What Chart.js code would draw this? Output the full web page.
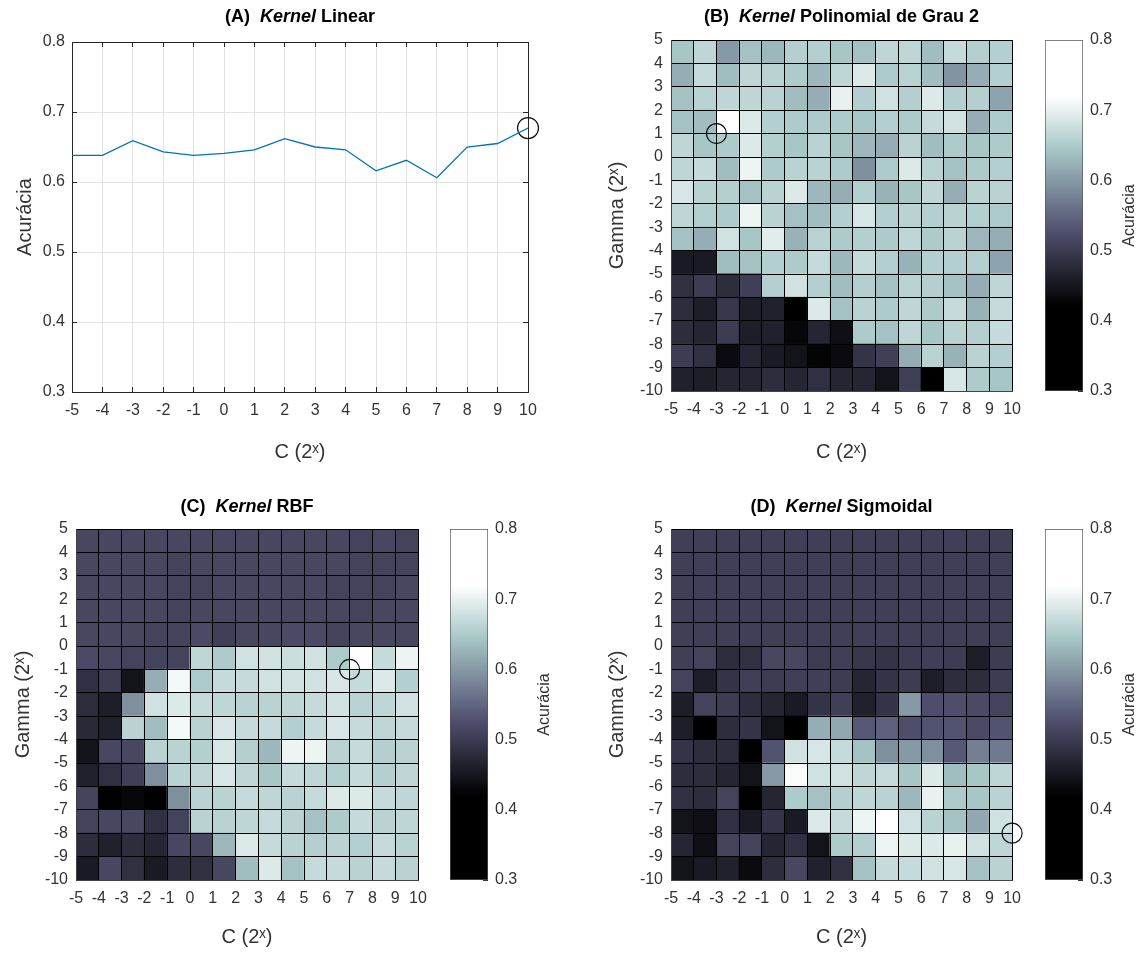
<!DOCTYPE html>
<html><head><meta charset="utf-8">
<script src="https://cdn.jsdelivr.net/npm/chart.js@4.4.1/dist/chart.umd.min.js"></script>
<style>
html,body{margin:0;padding:0;background:#fff;width:1148px;height:953px;overflow:hidden;position:relative;}
canvas{position:absolute;display:block;}
</style></head><body>
<canvas id="cA" width="560" height="470" style="left:0;top:0"></canvas>
<canvas id="cB" width="430" height="470" style="left:600px;top:0"></canvas>
<canvas id="cbB" width="108" height="470" style="left:1040px;top:0"></canvas>
<canvas id="cC" width="440" height="473" style="left:0;top:480px"></canvas>
<canvas id="cbC" width="120" height="473" style="left:440px;top:480px"></canvas>
<canvas id="cD" width="430" height="473" style="left:600px;top:480px"></canvas>
<canvas id="cbD" width="108" height="473" style="left:1040px;top:480px"></canvas>
<script>
// ---------------- DATA ----------------
const cTicks = [-5,-4,-3,-2,-1,0,1,2,3,4,5,6,7,8,9,10];          // C exponent (panel A x values, heatmap x ticks)
const cCells = [-5,-4,-3,-2,-1,0,1,2,3,4,5,6,7,8,9];              // heatmap column left edges
const gammaRows = [4,3,2,1,0,-1,-2,-3,-4,-5,-6,-7,-8,-9,-10];     // heatmap row lower edges (top to bottom)
const accTicks = [0.3,0.4,0.5,0.6,0.7,0.8];

// (A) linear kernel accuracy vs C
const linearAcc = [0.638,0.638,0.659,0.643,0.638,0.641,0.646,0.662,0.650,0.646,0.616,0.631,0.606,0.650,0.655,0.677];
const bestLinear = [10, 0.677];

// (B) polynomial degree 2 — rows gamma 4 .. -10, columns C -5 .. 9
const polyAcc = [
 [0.645,0.665,0.60,0.64,0.63,0.655,0.655,0.645,0.64,0.665,0.665,0.635,0.67,0.655,0.655],
 [0.62,0.67,0.635,0.665,0.66,0.65,0.63,0.665,0.69,0.65,0.66,0.635,0.595,0.62,0.655],
 [0.64,0.66,0.665,0.665,0.66,0.635,0.62,0.70,0.655,0.68,0.655,0.69,0.655,0.655,0.61],
 [0.64,0.635,0.73,0.69,0.655,0.65,0.65,0.65,0.645,0.655,0.65,0.67,0.68,0.62,0.65],
 [0.665,0.645,0.65,0.69,0.655,0.645,0.66,0.645,0.63,0.62,0.66,0.635,0.65,0.645,0.65],
 [0.665,0.67,0.635,0.705,0.65,0.66,0.66,0.65,0.59,0.65,0.69,0.66,0.64,0.65,0.655],
 [0.685,0.66,0.655,0.64,0.66,0.69,0.63,0.62,0.655,0.625,0.645,0.665,0.62,0.66,0.66],
 [0.665,0.655,0.65,0.705,0.66,0.64,0.635,0.655,0.685,0.655,0.66,0.655,0.66,0.655,0.65],
 [0.64,0.62,0.68,0.645,0.695,0.625,0.66,0.65,0.655,0.65,0.665,0.65,0.66,0.63,0.62],
 [0.455,0.455,0.635,0.64,0.655,0.65,0.67,0.63,0.67,0.655,0.625,0.655,0.655,0.655,0.61],
 [0.485,0.50,0.48,0.505,0.655,0.68,0.655,0.635,0.655,0.64,0.66,0.655,0.64,0.62,0.665],
 [0.48,0.46,0.495,0.46,0.465,0.41,0.69,0.64,0.66,0.65,0.665,0.65,0.67,0.625,0.67],
 [0.48,0.47,0.50,0.46,0.465,0.43,0.47,0.44,0.65,0.64,0.665,0.645,0.66,0.655,0.67],
 [0.50,0.485,0.435,0.47,0.455,0.445,0.425,0.435,0.49,0.505,0.62,0.66,0.625,0.66,0.655],
 [0.465,0.46,0.47,0.47,0.48,0.47,0.485,0.47,0.47,0.445,0.505,0.40,0.685,0.65,0.645]
];
const bestPoly = [-3, 1];

// (C) RBF
const rbfAcc = [
 [0.515,0.515,0.515,0.515,0.515,0.515,0.515,0.515,0.515,0.515,0.515,0.515,0.51,0.515,0.51],
 [0.515,0.515,0.515,0.515,0.51,0.515,0.515,0.515,0.515,0.515,0.515,0.515,0.51,0.51,0.51],
 [0.515,0.515,0.515,0.515,0.51,0.51,0.515,0.515,0.515,0.515,0.515,0.51,0.51,0.51,0.515],
 [0.515,0.515,0.515,0.515,0.51,0.515,0.515,0.515,0.515,0.515,0.515,0.515,0.51,0.515,0.515],
 [0.515,0.515,0.515,0.51,0.51,0.52,0.505,0.515,0.515,0.52,0.52,0.51,0.515,0.515,0.515],
 [0.52,0.515,0.51,0.51,0.51,0.665,0.65,0.68,0.68,0.675,0.68,0.65,0.73,0.67,0.705],
 [0.485,0.50,0.445,0.62,0.71,0.65,0.67,0.67,0.68,0.68,0.68,0.685,0.67,0.69,0.655],
 [0.48,0.46,0.59,0.68,0.69,0.67,0.665,0.66,0.66,0.665,0.67,0.68,0.66,0.665,0.68],
 [0.475,0.465,0.66,0.635,0.71,0.66,0.685,0.67,0.67,0.655,0.67,0.685,0.67,0.665,0.67],
 [0.445,0.515,0.515,0.66,0.66,0.655,0.685,0.655,0.63,0.705,0.705,0.66,0.67,0.655,0.66],
 [0.465,0.485,0.505,0.59,0.66,0.665,0.685,0.665,0.645,0.67,0.665,0.655,0.67,0.655,0.665],
 [0.51,0.40,0.43,0.42,0.59,0.66,0.66,0.67,0.665,0.66,0.67,0.69,0.69,0.67,0.665],
 [0.51,0.515,0.515,0.485,0.51,0.66,0.66,0.665,0.67,0.66,0.64,0.65,0.67,0.66,0.665],
 [0.48,0.465,0.48,0.47,0.515,0.515,0.63,0.69,0.67,0.66,0.655,0.66,0.655,0.67,0.66],
 [0.455,0.515,0.485,0.455,0.48,0.485,0.515,0.635,0.69,0.64,0.67,0.67,0.66,0.67,0.66]
];
const bestRbf = [7, -1];

// (D) sigmoid
const sigAcc = [
 [0.505,0.505,0.505,0.505,0.505,0.505,0.505,0.505,0.505,0.505,0.505,0.505,0.505,0.505,0.505],
 [0.505,0.505,0.505,0.505,0.505,0.505,0.505,0.505,0.505,0.505,0.505,0.505,0.505,0.505,0.505],
 [0.505,0.505,0.505,0.505,0.505,0.505,0.505,0.505,0.505,0.505,0.505,0.505,0.505,0.505,0.505],
 [0.505,0.505,0.505,0.505,0.505,0.505,0.505,0.505,0.505,0.505,0.505,0.505,0.505,0.505,0.505],
 [0.505,0.505,0.505,0.505,0.505,0.505,0.505,0.505,0.505,0.505,0.505,0.505,0.505,0.505,0.505],
 [0.505,0.51,0.48,0.485,0.515,0.515,0.50,0.505,0.495,0.49,0.50,0.505,0.50,0.46,0.50],
 [0.51,0.46,0.49,0.505,0.50,0.505,0.505,0.50,0.47,0.49,0.50,0.46,0.48,0.48,0.50],
 [0.46,0.51,0.50,0.48,0.47,0.455,0.49,0.505,0.465,0.49,0.60,0.525,0.525,0.52,0.51],
 [0.46,0.40,0.48,0.49,0.445,0.41,0.62,0.615,0.535,0.545,0.525,0.53,0.53,0.52,0.53],
 [0.49,0.48,0.48,0.42,0.53,0.68,0.685,0.67,0.64,0.59,0.60,0.59,0.535,0.575,0.57],
 [0.48,0.48,0.47,0.445,0.60,0.715,0.68,0.68,0.665,0.67,0.645,0.69,0.635,0.645,0.665],
 [0.485,0.48,0.51,0.42,0.47,0.65,0.64,0.655,0.665,0.66,0.63,0.70,0.65,0.645,0.66],
 [0.445,0.44,0.485,0.455,0.49,0.455,0.69,0.67,0.705,0.73,0.68,0.66,0.64,0.615,0.68],
 [0.47,0.44,0.51,0.51,0.47,0.485,0.445,0.65,0.655,0.705,0.69,0.69,0.70,0.68,0.665],
 [0.445,0.455,0.465,0.435,0.48,0.515,0.465,0.485,0.64,0.67,0.67,0.68,0.685,0.64,0.66]
];
const bestSig = [10, -8];

// ---------------- STYLE ----------------
const FONT = "'Liberation Sans', Arial, Helvetica, sans-serif";
const TXT = '#333333';
const AXC = '#262626';
Chart.defaults.font.family = FONT;
Chart.defaults.color = TXT;
Chart.defaults.animation = false;

const CLIM = [0.42, 0.72];
function clamp01(x){ return Math.max(0, Math.min(1, x)); }
function bone(v){
  const t = clamp01((v - CLIM[0]) / (CLIM[1] - CLIM[0]));
  const hr = clamp01(t / 0.375), hg = clamp01((t - 0.375) / 0.375), hb = clamp01((t - 0.75) / 0.25);
  const r = (7*t + hb) / 8, g = (7*t + hg) / 8, b = (7*t + hr) / 8;
  return 'rgb(' + Math.round(r*255) + ',' + Math.round(g*255) + ',' + Math.round(b*255) + ')';
}

const mixedTitle = {
  id: 'mixedTitle',
  afterDraw(chart, args, opts) {
    if (!opts || !opts.parts) return;
    const ctx = chart.ctx, area = chart.chartArea;
    ctx.save();
    const fonts = opts.parts.map(p => (p.italic ? 'italic ' : '') + 'bold ' + opts.size + 'px ' + FONT);
    const widths = opts.parts.map((p, i) => { ctx.font = fonts[i]; return ctx.measureText(p.text).width; });
    const total = widths.reduce((a, b) => a + b, 0);
    let x = (area.left + area.right) / 2 - total / 2;
    ctx.fillStyle = '#000'; ctx.textBaseline = 'middle'; ctx.textAlign = 'left';
    opts.parts.forEach((p, i) => { ctx.font = fonts[i]; ctx.fillText(p.text, x, opts.y); x += widths[i]; });
    ctx.restore();
  }
};
const sideLabel = {
  id: 'sideLabel',
  afterDraw(chart, args, opts) {
    if (!opts || !opts.text) return;
    const ctx = chart.ctx, area = chart.chartArea;
    ctx.save();
    ctx.translate(opts.x, (area.top + area.bottom) / 2);
    ctx.rotate(-Math.PI / 2);
    ctx.font = opts.size + 'px ' + FONT;
    ctx.fillStyle = TXT; ctx.textAlign = 'center'; ctx.textBaseline = 'middle';
    ctx.fillText(opts.text, 0, 0);
    ctx.restore();
  }
};
Chart.register(mixedTitle, sideLabel);

const TICK = 16, AXT = 20, TITLE = 18, TL = -5;
function titleParts(tag, name){ return [{text: tag + '  '}, {text: 'Kernel', italic: true}, {text: ' ' + name}]; }

// ---------------- (A) LINE ----------------
new Chart(document.getElementById('cA'), {
  type: 'line',
  data: { datasets: [
    { data: cTicks.map((c, i) => ({x: c, y: linearAcc[i]})), borderColor: '#0072BD', borderWidth: 1.3,
      pointRadius: 0, tension: 0, fill: false },
    { data: [{x: bestLinear[0], y: bestLinear[1]}], showLine: false, pointRadius: 10.5,
      pointBorderColor: '#111', pointBackgroundColor: 'rgba(0,0,0,0)', pointBorderWidth: 1.2, clip: false }
  ]},
  options: {
    responsive: false, devicePixelRatio: 1, animation: false,
    layout: { padding: { top: 42, right: 32, left: 0, bottom: 0 } },
    plugins: { legend: {display: false}, tooltip: {enabled: false},
      mixedTitle: { parts: titleParts('(A)', 'Linear'), y: 17, size: TITLE } },
    scales: {
      x: { type: 'linear', min: -5, max: 10,
        ticks: { stepSize: 1, font: {size: TICK}, padding: 9 - TL, color: TXT, autoSkip: false, maxRotation: 0, minRotation: 0 },
        grid: { drawTicks: true, tickLength: TL, tickColor: AXC, color: c => c.tick && c.tick.value === 10 ? AXC : '#e3e3e3' },
        border: { color: AXC },
        title: { display: true, text: 'C (2ˣ)', font: {size: AXT}, color: TXT, padding: {top: 0, bottom: 6} },
        afterFit: s => { s.height = 78; } },
      xTop: { type: 'linear', position: 'top', min: -5, max: 10,
        ticks: { stepSize: 1, display: false, autoSkip: false },
        grid: { drawOnChartArea: false, drawTicks: true, tickLength: TL, tickColor: AXC },
        border: { display: false },
        afterFit: s => { s.height = 0; } },
      y: { min: 0.3, max: 0.8,
        ticks: { stepSize: 0.1, font: {size: TICK}, padding: 7 - TL, color: TXT, callback: v => v.toFixed(1) },
        grid: { drawTicks: true, tickLength: TL, tickColor: AXC, color: c => c.tick && Math.abs(c.tick.value - 0.8) < 1e-6 ? AXC : '#e3e3e3' },
        border: { color: AXC },
        title: { display: true, text: 'Acurácia', font: {size: AXT}, color: TXT, padding: {top: 13, bottom: 0} },
        afterFit: s => { s.width = 72; } },
      yRight: { position: 'right', min: 0.3, max: 0.8,
        ticks: { stepSize: 0.1, display: false },
        grid: { drawOnChartArea: false, drawTicks: true, tickLength: TL, tickColor: AXC },
        border: { display: false },
        afterFit: s => { s.width = 0; } }
    }
  }
});

// ---------------- HEATMAPS ----------------
function heatmap(id, acc, best, tag, name, g) {
  const cells = [];
  gammaRows.forEach((gm, r) => cCells.forEach((c, k) => cells.push({x: c + 0.5, y: [gm, gm + 1], v: acc[r][k]})));
  new Chart(document.getElementById(id), {
    type: 'bar',
    data: { datasets: [
      { type: 'scatter', data: [{x: best[0], y: best[1]}], pointRadius: 10, pointBorderColor: '#111',
        pointBackgroundColor: 'rgba(0,0,0,0)', pointBorderWidth: 1.2, clip: false, order: 0 },
      { type: 'bar', data: cells, backgroundColor: c => (c.raw ? bone(c.raw.v) : '#000'),
        borderWidth: 0, barPercentage: 1, categoryPercentage: 1, inflateAmount: 0.5, order: 1 }
    ]},
    options: {
      responsive: false, devicePixelRatio: 1, animation: false,
      layout: { padding: { top: g.top, right: g.right, left: 0, bottom: 0 } },
      plugins: { legend: {display: false}, tooltip: {enabled: false},
        mixedTitle: { parts: titleParts(tag, name), y: g.titleY, size: TITLE } },
      scales: {
        x: { type: 'linear', min: -5, max: 10, offset: false,
          ticks: { stepSize: 1, font: {size: TICK}, padding: 9, color: TXT, autoSkip: false, maxRotation: 0, minRotation: 0 },
          grid: { offset: false, drawTicks: false, color: '#000', lineWidth: 1, z: 1 },
          border: { color: '#444', z: 2 },
          title: { display: true, text: 'C (2ˣ)', font: {size: AXT}, color: TXT, padding: {top: 0, bottom: g.xtb} },
          afterFit: s => { s.height = g.xh; } },
        y: { type: 'linear', min: -10, max: 5,
          ticks: { stepSize: 1, font: {size: TICK}, padding: 8, color: TXT, autoSkip: false },
          grid: { drawTicks: false, color: '#000', lineWidth: 1, z: 1 },
          border: { color: '#444', z: 2 },
          title: { display: true, text: 'Gamma (2ˣ)', font: {size: AXT}, color: TXT, padding: {top: g.ytp, bottom: 0} },
          afterFit: s => { s.width = g.yw; } }
      }
    }
  });
}

function cbGradient(chart) {
  const y = chart.scales && chart.scales.y;
  if (!y || !isFinite(y.getPixelForValue(0.3))) return '#777';
  const grad = chart.ctx.createLinearGradient(0, y.getPixelForValue(0.3), 0, y.getPixelForValue(0.8));
  for (let i = 0; i <= 100; i++) { grad.addColorStop(i / 100, bone(0.3 + 0.5 * i / 100)); }
  return grad;
}
function colorbar(id, g) {
  new Chart(document.getElementById(id), {
    type: 'bar',
    data: { labels: [''], datasets: [{ data: [[accTicks[0], accTicks[accTicks.length - 1]]],
      backgroundColor: c => cbGradient(c.chart), borderColor: '#555', borderWidth: 1, borderSkipped: false,
      barPercentage: 1, categoryPercentage: 1 }] },
    options: {
      responsive: false, devicePixelRatio: 1, animation: false,
      layout: { padding: { top: g.top, left: g.left, bottom: g.bottom, right: 0 } },
      plugins: { legend: {display: false}, tooltip: {enabled: false},
        sideLabel: { text: 'Acurácia', x: g.labelX, size: 16 } },
      scales: {
        x: { display: false },
        y: { position: 'right', min: 0.3, max: 0.8,
          afterBuildTicks: s => { s.ticks = accTicks.map(v => ({value: v})); },
          ticks: { font: {size: TICK}, padding: 7 - TL, color: TXT, callback: v => Number(v).toFixed(1) },
          grid: { display: true, drawOnChartArea: false, drawTicks: true, tickLength: TL, tickColor: '#333' },
          border: { display: false },
          afterFit: s => { s.width = g.w; } }
      }
    }
  });
}

heatmap('cB', polyAcc, bestPoly, '(B)', 'Polinomial de Grau 2', {top: 40, right: 17, xh: 79, yw: 71, xtb: 6, ytp: 5, titleY: 17});
colorbar('cbB', {top: 40, left: 5, bottom: 79, w: 65, labelX: 90});
heatmap('cC', rbfAcc, bestRbf, '(C)', 'RBF', {top: 49, right: 22, xh: 73, yw: 76, xtb: 4, ytp: 11, titleY: 27});
colorbar('cbC', {top: 49, left: 10, bottom: 73, w: 72, labelX: 105});
heatmap('cD', sigAcc, bestSig, '(D)', 'Sigmoidal', {top: 49, right: 17, xh: 73, yw: 71, xtb: 4, ytp: 5, titleY: 27});
colorbar('cbD', {top: 49, left: 5, bottom: 73, w: 65, labelX: 90});
</script>
</body></html>
